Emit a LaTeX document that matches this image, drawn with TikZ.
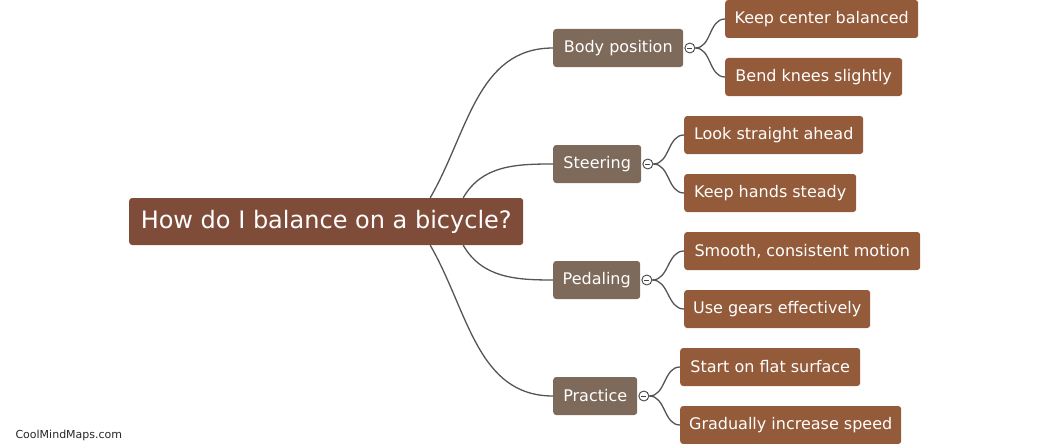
\documentclass[tikz,border=0pt]{standalone}
\usepackage{fontspec}
\setmainfont{DejaVu Sans}
\usepackage{xcolor}
\usetikzlibrary{positioning}

\definecolor{rootbrown}{HTML}{7F4C3A}
\definecolor{branchgray}{HTML}{7E6A5B}
\definecolor{leafbrown}{HTML}{935B3A}
\definecolor{linkgray}{HTML}{555555}

\begin{document}
\begin{tikzpicture}[x=1pt, y=-1pt,
  root/.style={rectangle, rounded corners=3pt, fill=rootbrown, text=white,
    anchor=west, minimum height=47pt, inner xsep=0pt,
    font=\fontsize{24}{28}\selectfont},
  topic/.style={rectangle, rounded corners=3pt, fill=branchgray, text=white,
    anchor=west, minimum height=38pt, inner xsep=0pt,
    font=\fontsize{16}{19}\selectfont},
  leaf/.style={rectangle, rounded corners=3pt, fill=leafbrown, text=white,
    anchor=west, minimum height=38pt, inner xsep=0pt,
    font=\fontsize{16}{19}\selectfont},
  toggle/.style={circle, draw=linkgray!80!black, fill=white, line width=0.9pt,
    minimum size=10pt, inner sep=0pt,
    path picture={\draw[line width=0.8pt]
      ([xshift=2.5pt]path picture bounding box.west) --
      ([xshift=-2.5pt]path picture bounding box.east);}},
  link/.style={draw=linkgray, line width=1.3pt},
]
  \useasboundingbox (0,0) rectangle (1062,444);

  % central question
  \node[root, minimum width=394pt] (q) at (129,221.5) {How do I balance on a bicycle?};

  % main topics
  \node[topic, minimum width=130pt] (b1) at (553,48) {Body position};
  \node[topic, minimum width=88pt] (b2) at (553,164) {Steering};
  \node[topic, minimum width=87pt] (b3) at (553,280) {Pedaling};
  \node[topic, minimum width=84pt] (b4) at (553,396) {Practice};

  \foreach \b in {b1,b2,b3,b4}
    \node[toggle, right=1pt of \b] (\b t) {};

  % details
  \node[leaf, minimum width=193pt] (l1) at (725,19) {Keep center balanced};
  \node[leaf, minimum width=177pt] (l2) at (725,77) {Bend knees slightly};
  \node[leaf, minimum width=179pt] (l3) at (684,135) {Look straight ahead};
  \node[leaf, minimum width=172pt] (l4) at (684,193) {Keep hands steady};
  \node[leaf, minimum width=236pt] (l5) at (684,251) {Smooth, consistent motion};
  \node[leaf, minimum width=186pt] (l6) at (684,309) {Use gears effectively};
  \node[leaf, minimum width=180pt] (l7) at (680,367) {Start on flat surface};
  \node[leaf, minimum width=221pt] (l8) at (680,425) {Gradually increase speed};

  % question to topics
  \draw[link] ([xshift=104pt]q.north) to[out=60, in=180] (b1.west);
  \draw[link] ([xshift=137pt]q.north) to[out=60, in=180] (b2.west);
  \draw[link] ([xshift=137pt]q.south) to[out=-60, in=180] (b3.west);
  \draw[link] ([xshift=104pt]q.south) to[out=-60, in=180] (b4.west);

  % topics to details
  \draw[link] (b1t.east) to[out=0, in=180] (l1.west);
  \draw[link] (b1t.east) to[out=0, in=180] (l2.west);
  \draw[link] (b2t.east) to[out=0, in=180] (l3.west);
  \draw[link] (b2t.east) to[out=0, in=180] (l4.west);
  \draw[link] (b3t.east) to[out=0, in=180] (l5.west);
  \draw[link] (b3t.east) to[out=0, in=180] (l6.west);
  \draw[link] (b4t.east) to[out=0, in=180] (l7.west);
  \draw[link] (b4t.east) to[out=0, in=180] (l8.west);

  \node[anchor=west, font=\fontsize{11}{13}\selectfont, text=black!85] (mark) at (12,435) {CoolMindMaps.com};
\end{tikzpicture}
\end{document}
